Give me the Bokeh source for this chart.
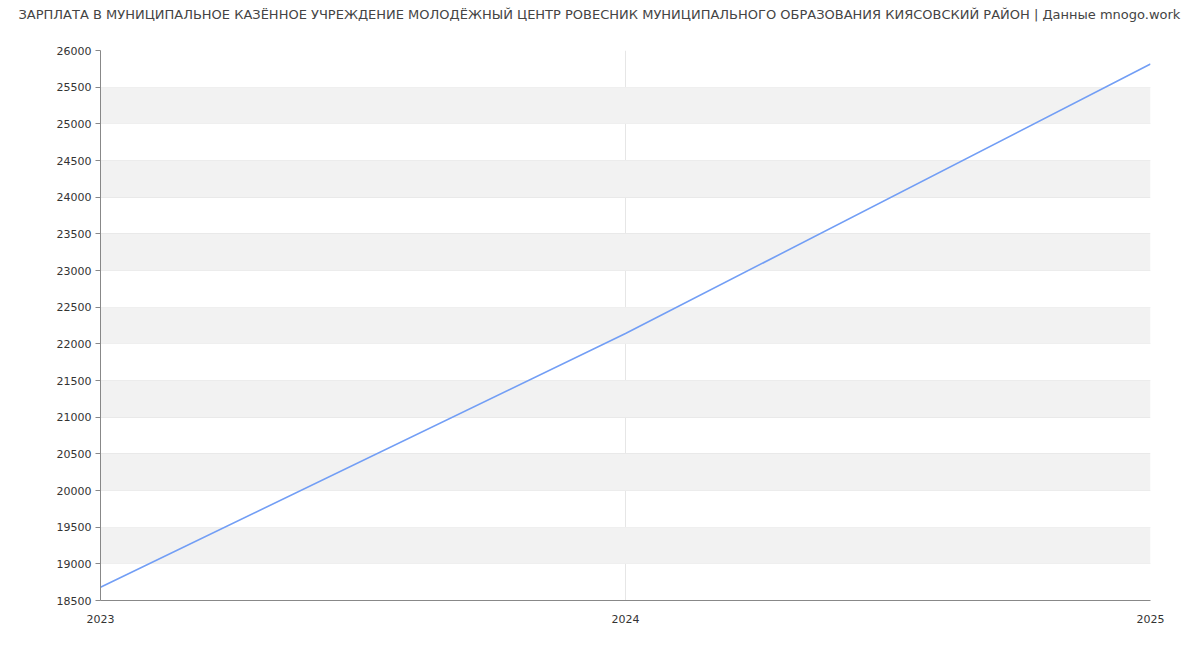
from bokeh.plotting import figure
from bokeh.models import Range1d, FixedTicker, BoxAnnotation, Title
from bokeh.embed import file_html
from bokeh.resources import INLINE

title_text = ("ЗАРПЛАТА В МУНИЦИПАЛЬНОЕ КАЗЁННОЕ УЧРЕЖДЕНИЕ МОЛОДЁЖНЫЙ ЦЕНТР РОВЕСНИК "
              "МУНИЦИПАЛЬНОГО ОБРАЗОВАНИЯ КИЯСОВСКИЙ РАЙОН | Данные mnogo.work")
years = [2023, 2024, 2025]
salary = [18680, 22140, 25815]
y_ticks = list(range(18500, 26001, 500))

FONT = "DejaVu Sans"

p = figure(width=1200, height=650, output_backend="svg", toolbar_location=None,
           x_range=Range1d(2023, 2025), y_range=Range1d(18500, 26000),
           min_border_left=100, min_border_right=50, min_border_top=50, min_border_bottom=50)

p.title.text = title_text
p.title.align = "left"
p.title.offset = -82
p.title.text_font = FONT
p.title.text_font_size = "13px"
p.title.text_font_style = "normal"
p.title.text_color = "#444444"
p.title.standoff = 0

# empty spacer panel between the title and the frame
p.add_layout(Title(text=" ", text_font=FONT, text_font_size="13px", standoff=12), "above")

p.outline_line_color = None
p.background_fill_color = "white"

# alternating bands
for i in range(1, len(y_ticks) - 1, 2):
    p.add_layout(BoxAnnotation(bottom=y_ticks[i], top=y_ticks[i + 1],
                               fill_color="#f2f2f2", fill_alpha=1.0, line_color=None,
                               level="underlay"))

p.xgrid.ticker = FixedTicker(ticks=years)
p.ygrid.ticker = FixedTicker(ticks=y_ticks)
p.xgrid.grid_line_color = "#e6e6e6"
p.ygrid.grid_line_color = "#e6e6e6"
p.xgrid.level = "underlay"
p.ygrid.level = "underlay"

p.xaxis.ticker = FixedTicker(ticks=years)
p.yaxis.ticker = FixedTicker(ticks=y_ticks)
for ax in (p.xaxis, p.yaxis):
    ax.axis_line_color = "#888888"
    ax.major_label_text_font = FONT
    ax.major_label_text_font_size = "11px"
    ax.major_label_text_color = "#333333"
    ax.minor_tick_line_color = None
p.xaxis.major_tick_line_color = None
p.xaxis.major_label_standoff = 8
p.yaxis.major_tick_line_color = "#888888"
p.yaxis.major_tick_out = 5
p.yaxis.major_tick_in = 0
p.yaxis.major_label_standoff = 4

p.line(years, salary, line_color="#729ef5", line_width=1.6)

open("out.html", "w").write(file_html(p, INLINE))
